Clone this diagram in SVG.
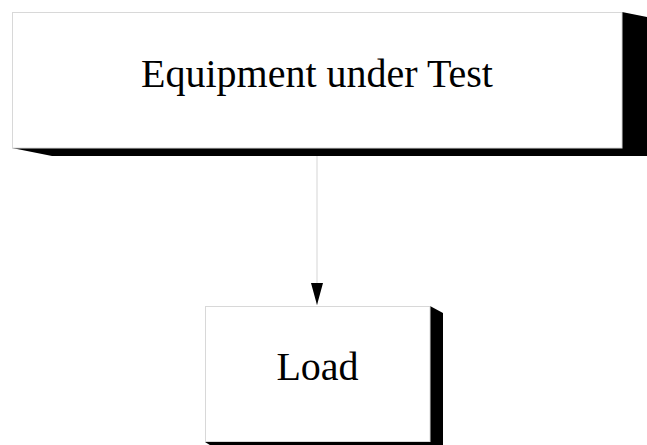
<svg xmlns="http://www.w3.org/2000/svg" width="647" height="445" viewBox="0 0 647 445">
<style>
.box{fill:#ffffff;stroke:#d8d8d8;stroke-width:1}
.shadow{fill:#000000}
.label{font-family:"Liberation Serif","Times New Roman",serif;font-size:40px;fill:#000000;text-anchor:middle}
.edge{stroke:#dcdcdc;stroke-width:1.2;fill:none}
</style>
<defs>
<marker id="arrow" markerWidth="22" markerHeight="12" refX="22" refY="6" orient="auto" markerUnits="userSpaceOnUse" viewBox="0 0 22 12">
<path d="M0,0 L22,6 L0,12 Z" fill="#000000"/>
</marker>
</defs>
<rect width="647" height="445" fill="#ffffff"/>
<g id="connectors">
<line class="edge" x1="317" y1="156" x2="317" y2="305" marker-end="url(#arrow)"/>
</g>
<g id="equipment">
<polygon class="shadow" points="622,12 662,20 662,156 52,156 12,148 622,148"/>
<rect class="box" x="12.5" y="12.5" width="609.5" height="135.5"/>
<text class="label" x="317" y="87">Equipment under Test</text>
</g>
<g id="load">
<polygon class="shadow" points="430,306 443,313 443,450 218,450 205,442 430,442"/>
<rect class="box" x="205.5" y="306.5" width="224.5" height="135"/>
<text class="label" x="317.5" y="380">Load</text>
</g>
</svg>
